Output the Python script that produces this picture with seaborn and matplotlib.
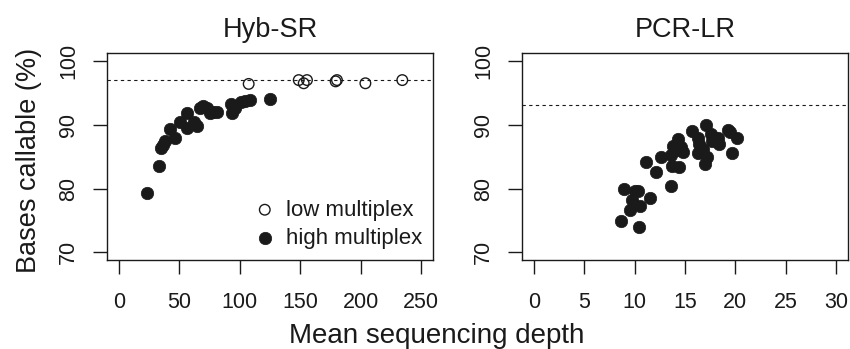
import matplotlib
matplotlib.use("Agg")
import matplotlib.pyplot as plt
import seaborn as sns
import pandas as pd

# Hyb-SR, low multiplex (open circles)
hyb_low_depth = [107.4, 148.8, 152.9, 155.6, 179.3, 180.4, 203.9, 234.4]
hyb_low_call = [96.4, 97.0, 96.5, 97.0, 96.8, 97.0, 96.5, 97.0]

# Hyb-SR, high multiplex (filled circles)
hyb_high_depth = [23.7, 33.3, 35.3, 36.6, 38.0, 42.7, 46.9, 50.4, 56.5, 56.5,
                  62.0, 65.0, 67.0, 69.7, 73.0, 75.2, 78.0, 81.2, 93.1, 93.9,
                  96.0, 101.4, 104.7, 108.3, 124.8]
hyb_high_call = [79.3, 83.5, 86.4, 86.9, 87.5, 89.3, 88.0, 90.4, 91.9, 89.5,
                 90.4, 89.8, 92.7, 93.0, 92.7, 91.9, 92.0, 92.0, 93.2, 91.8,
                 92.7, 93.5, 93.8, 93.9, 94.0]

# PCR-LR
pcr_depth = [8.67, 10.39, 8.9, 9.5, 9.72, 9.99, 10.32, 10.49, 11.57, 11.08,
             12.17, 12.6, 13.58, 13.78, 14.3, 14.1, 13.7, 14.38, 14.77, 13.62,
             14.6, 15.66, 16.32, 16.42, 16.32, 16.98, 17.15, 17.08, 16.75, 17.58,
             17.68, 18.23, 18.4, 17.9, 19.29, 19.65, 20.2, 19.5]
pcr_call = [74.9, 73.9, 79.9, 76.7, 78.2, 79.6, 79.6, 77.3, 78.5, 84.2,
            82.6, 85.0, 80.4, 86.6, 87.8, 86.0, 83.5, 83.3, 85.8, 85.2,
            86.5, 89.0, 88.0, 87.0, 85.6, 83.8, 84.9, 89.9, 86.2, 88.6,
            87.5, 88.0, 87.0, 88.0, 89.1, 85.6, 87.9, 88.8]

# dashed reference levels
hyb_ref = 97.0
pcr_ref = 93.1

sns.set_style("ticks")
plt.rcParams["font.family"] = ["Liberation Sans", "DejaVu Sans"]
ink = "#1a1a1a"
plt.rcParams["text.color"] = ink
plt.rcParams["axes.edgecolor"] = ink
plt.rcParams["xtick.color"] = ink
plt.rcParams["ytick.color"] = ink

fig = plt.figure(figsize=(8.5, 3.49), dpi=100)
ax1 = fig.add_axes([0.1255, 0.255, 0.3842, 0.5923])
ax2 = fig.add_axes([0.6138, 0.255, 0.3842, 0.5923])

low = pd.DataFrame({"depth": hyb_low_depth, "call": hyb_low_call})
high = pd.DataFrame({"depth": hyb_high_depth, "call": hyb_high_call})
pcr = pd.DataFrame({"depth": pcr_depth, "call": pcr_call})

sns.scatterplot(data=low, x="depth", y="call", ax=ax1, s=58, marker="o",
                facecolor="none", edgecolor=ink, linewidth=1.0, label="low multiplex")
sns.scatterplot(data=high, x="depth", y="call", ax=ax1, s=80, marker="o",
                color=ink, edgecolor=ink, linewidth=0.5, label="high multiplex")
sns.scatterplot(data=pcr, x="depth", y="call", ax=ax2, s=80, marker="o",
                color=ink, edgecolor=ink, linewidth=0.5)

ax1.axhline(hyb_ref, color=ink, lw=0.8, ls=(0, (3, 3)))
ax2.axhline(pcr_ref, color=ink, lw=0.8, ls=(0, (3, 3)))

ax1.set_xlim(-10, 260)
ax1.set_xticks([0, 50, 100, 150, 200, 250])
ax2.set_xlim(-1.2, 31.2)
ax2.set_xticks([0, 5, 10, 15, 20, 25, 30])

for ax, title in [(ax1, "Hyb-SR"), (ax2, "PCR-LR")]:
    ax.set_ylim(68.8, 101.2)
    ax.set_yticks([70, 80, 90, 100])
    ax.set_xlabel("")
    ax.set_ylabel("")
    ax.set_title(title, fontsize=19.5, pad=12)
    ax.tick_params(axis="both", direction="out", length=10, width=1.0,
                   labelsize=15.5)
    ax.tick_params(axis="x", pad=13)
    ax.tick_params(axis="y", pad=10)
    for lab in ax.get_yticklabels():
        lab.set_rotation(90)
        lab.set_va("center")
    for sp in ax.spines.values():
        sp.set_visible(True)
        sp.set_linewidth(1.0)

leg = ax1.legend(loc="lower right", bbox_to_anchor=(1.0, 0.0), frameon=False,
                 fontsize=16, handletextpad=0.35, labelspacing=0.33,
                 borderaxespad=0.1, handlelength=1.2)

fig.text(437 / 850, 1 - 343 / 349, "Mean sequencing depth", ha="center",
         va="baseline", fontsize=20)
fig.text(29 / 850, 1 - 160 / 349, "Bases callable (%)", ha="center",
         va="center", rotation=90, fontsize=19.5)

fig.savefig("out.png", dpi=100)
